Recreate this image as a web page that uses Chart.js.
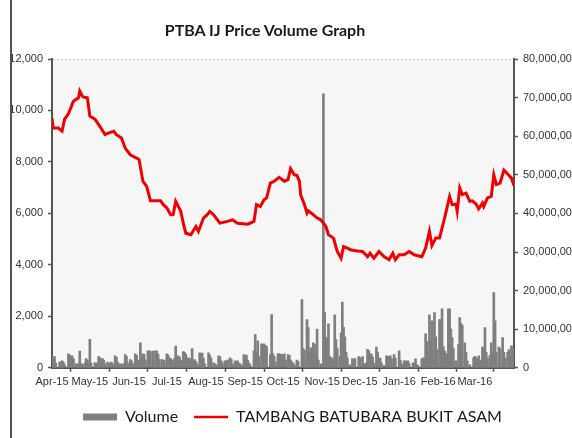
<!DOCTYPE html>
<html><head><meta charset="utf-8">
<script src="https://cdn.jsdelivr.net/npm/chart.js@4.4.0/dist/chart.umd.min.js"></script>
<style>
html,body{margin:0;padding:0;background:#fff;overflow:hidden;width:572px;height:438px;}
#wrap{position:relative;width:585px;height:438px;}
#title{position:absolute;top:21px;left:0;width:530px;text-align:center;font:bold 16px Lato,"Open Sans",sans-serif;color:#1a1a1a;line-height:18px;}
#frame{position:absolute;left:10px;top:0;width:2px;height:438px;background:#555;}
canvas{display:block;}
</style></head><body>
<div id="wrap">
<canvas id="c" width="585" height="438" style="width:585px;height:438px"></canvas>
<div id="title">PTBA IJ Price Volume Graph</div>
<div id="frame"></div>
</div>
<script>
// Days counted from 1 Apr 2015
const monthTickDays = [0,30,61,91,122,153,183,214,244,275,306,335];
const monthLabels = ['Apr-15','May-15','Jun-15','Jul-15','Aug-15','Sep-15','Oct-15','Nov-15','Dec-15','Jan-16','Feb-16','Mar-16'];

const priceDays = [0,1,5,8,10,13,17,21,22,24,25,28,30,34,37,39,42,45,49,51,55,58,62,67,69,72,75,78,86,88,91,94,96,98,102,104,106,110,114,116,120,123,125,128,133,139,143,147,155,160,162,165,168,170,173,176,180,184,187,189,192,194,196,197,200,202,203,207,210,212,214,217,219,223,226,229,231,234,237,242,246,250,252,255,259,263,267,270,272,275,279,283,287,293,296,299,301,304,307,311,315,317,320,321,323,325,328,331,333,336,338,341,342,345,348,350,352,355,358,361,364,366];
const priceValues = [9700,9320,9320,9200,9660,9870,10360,10490,10750,10560,10520,10490,9780,9660,9450,9300,9060,9130,9190,9060,8930,8540,8280,8150,8090,7250,7050,6490,6490,6350,6210,5950,5960,6470,6080,5620,5230,5170,5490,5300,5820,5950,6080,5950,5620,5690,5750,5620,5580,5690,6340,6270,6530,6600,7180,7250,7400,7250,7310,7740,7500,7480,7250,6720,6340,6010,6100,5950,5820,5780,5690,5490,5170,5040,4520,4260,4710,4650,4580,4540,4520,4320,4450,4260,4520,4320,4200,4450,4200,4390,4390,4520,4390,4320,4650,5300,4750,5040,5040,5820,6660,6340,6360,6080,6990,6730,6790,6470,6490,6360,6180,6400,6270,6600,6660,7500,7120,7180,7680,7530,7370,7080];

const volumeDays = [0,1,2,3,6,7,8,9,10,13,14,15,16,17,19,20,21,22,23,24,26,27,28,29,30,31,34,35,36,37,38,39,40,41,42,44,45,47,48,50,51,52,54,55,56,58,59,60,62,63,64,66,67,68,70,71,72,73,74,76,77,78,80,82,83,84,85,87,88,89,91,92,93,94,95,97,98,99,100,101,102,104,105,106,108,109,110,111,112,113,114,115,117,118,119,120,121,124,125,126,128,129,130,132,133,134,135,137,138,139,141,142,143,145,146,147,148,149,150,152,153,154,155,156,157,160,161,162,163,164,166,167,168,169,170,173,174,175,176,177,179,180,181,182,184,185,187,188,189,190,191,192,194,195,198,199,200,202,203,204,205,207,208,209,210,211,213,215,216,217,218,219,220,221,222,223,224,225,226,228,229,230,231,232,233,234,236,238,239,240,243,244,246,247,249,250,251,252,253,254,255,257,258,259,260,261,263,265,266,267,268,269,271,272,275,276,277,279,280,281,282,283,286,287,288,289,290,293,294,295,296,297,298,299,300,301,302,303,304,305,307,308,309,310,311,312,313,314,315,316,317,318,320,322,323,324,325,327,328,329,331,334,335,336,337,338,340,341,342,343,344,345,347,348,349,350,351,352,354,355,357,358,359,361,362,363,364,365];
const volumeMillions = [2.9,2.7,2.9,1.2,1.4,1.6,1.8,1.5,0.8,3.6,3.3,2.8,3.1,2.4,1.0,0.8,1.1,4.3,1.0,0.9,1.2,2.4,2.0,1.0,7.4,1.2,1.3,1.1,1.3,2.9,2.6,1.5,2.4,2.0,1.0,1.5,1.2,1.5,1.0,3.1,2.8,1.5,1.0,0.8,1.0,3.4,3.0,1.2,2.1,1.8,1.0,3.6,3.2,2.0,6.5,3.0,3.6,3.5,2.0,4.4,4.4,4.2,4.3,4.4,4.3,3.5,2.2,2.1,1.8,2.0,3.6,3.2,2.5,2.4,2.0,2.4,5.6,2.0,3.1,2.8,2.0,4.2,4.0,3.5,2.6,2.4,1.5,5.0,1.8,2.1,1.6,1.0,3.9,3.6,3.8,2.5,1.0,3.9,3.2,2.5,1.3,1.0,0.8,3.1,2.9,1.8,1.2,1.8,1.5,2.0,2.6,2.2,1.0,1.8,1.5,1.8,1.2,1.0,0.7,3.4,3.0,3.3,2.0,1.3,0.8,4.4,8.6,4.0,7.0,3.0,6.2,6.0,6.2,5.8,5.5,3.4,13.8,3.6,3.0,1.5,3.6,3.7,3.5,3.4,3.6,2.0,3.4,3.2,2.0,1.5,1.3,0.8,2.0,1.6,17.7,5.0,4.5,12.5,10.4,4.0,5.2,6.5,6.0,3.5,10.0,2.0,1.0,71.0,14.3,6.0,7.8,11.4,3.0,2.6,2.0,2.6,13.7,7.3,5.0,3.0,9.0,17.0,10.5,8.0,4.0,2.6,0.8,2.4,2.0,2.4,2.9,2.6,2.9,1.0,1.3,4.8,4.4,3.5,3.6,2.8,1.2,5.4,4.0,2.0,2.5,1.3,0.6,3.1,3.0,1.5,3.1,2.3,3.4,2.5,4.4,2.0,1.0,1.8,1.8,1.6,1.8,1.0,1.3,1.0,2.3,0.8,0.6,2.3,2.6,2.3,8.8,6.8,2.5,13.7,7.0,12.2,3.0,14.3,8.0,4.7,12.5,12.5,15.3,5.5,4.4,3.6,3.6,15.3,15.3,10.0,7.8,5.0,1.8,6.0,13.0,11.5,11.0,6.5,4.0,1.8,0.8,2.6,3.0,2.6,2.2,3.1,2.0,5.4,5.0,10.4,4.0,2.6,3.2,6.5,4.0,19.5,12.2,4.0,5.4,5.0,7.8,4.0,2.5,4.0,4.7,3.0,5.7,5.0];

const priceTicks = [0,2000,4000,6000,8000,10000,12000];
const volumeTicks = [0,10,20,30,40,50,60,70,80]; // millions

const seriesNames = ['Volume','TAMBANG BATUBARA BUKIT ASAM'];

const axisColor = '#555555';
const labelFont = {family:'"Liberation Sans", Arial, sans-serif', size:11};

const plotBg = {
  id:'plotBg',
  beforeDraw(chart){
    const {ctx, chartArea:a} = chart;
    ctx.save(); ctx.fillStyle='#f6f6f6';
    ctx.fillRect(a.left, a.top, a.right-a.left, a.bottom-a.top);
    ctx.restore();
  }
};

new Chart(document.getElementById('c'), {
  type:'bar',
  data:{
    datasets:[
      {
        type:'bar', label:seriesNames[0], yAxisID:'yv', order:1,
        data: volumeDays.map((d,i)=>({x:d, y:volumeMillions[i]})),
        backgroundColor:'#7f7f7f', borderWidth:0, barThickness:2
      },
      {
        type:'line', label:seriesNames[1], yAxisID:'yp', order:0,
        data: priceDays.map((d,i)=>({x:d, y:priceValues[i]})),
        borderColor:'#f00000', backgroundColor:'#f00000', borderWidth:3,
        pointRadius:0, tension:0, fill:false
      }
    ]
  },
  options:{
    responsive:false, animation:false,
    layout:{padding:{top:59, left:0, right:0, bottom:3}},
    plugins:{
      title:{display:false},
      tooltip:{enabled:false},
      legend:{
        position:'bottom', reverse:true,
        labels:{
          usePointStyle:true, pointStyleWidth:34, boxHeight:7, padding:16,
          color:'#1a1a1a', font:{family:'Lato, "Open Sans", sans-serif', size:16},
          generateLabels(chart){
            const items = Chart.defaults.plugins.legend.labels.generateLabels(chart);
            items.forEach(it=>{
              if (it.datasetIndex===0){ it.pointStyle='rect'; it.fillStyle='#7f7f7f'; it.strokeStyle='#7f7f7f'; it.lineWidth=0; }
              else { it.pointStyle='line'; it.strokeStyle='#f00000'; it.lineWidth=2.5; }
            });
            return items;
          }
        }
      }
    },
    scales:{
      x:{
        type:'linear', min:0, max:366, offset:false,
        afterBuildTicks(s){ s.ticks = monthTickDays.map(v=>({value:v})); },
        ticks:{autoSkip:false, maxRotation:0, padding:4, color:'#333', font:labelFont,
          callback(v){ const i = monthTickDays.indexOf(v); return i>=0 ? monthLabels[i] : ''; }},
        grid:{drawOnChartArea:false, drawTicks:true, tickLength:4, tickColor:axisColor, tickWidth:1.5},
        border:{color:axisColor, width:2}
      },
      yp:{
        position:'left', min:0, max:12000,
        afterBuildTicks(s){ s.ticks = priceTicks.map(v=>({value:v})); },
        afterFit(s){ s.width = 52; },
        ticks:{padding:5, color:'#333', font:labelFont,
          callback(v){ return v.toLocaleString('en-US'); }},
        grid:{drawOnChartArea:true, tickLength:4, tickWidth:1.5, tickColor:axisColor,
          color(c){ return c.tick && c.tick.value===12000 ? '#c8c8c8' : 'rgba(0,0,0,0)'; }},
        border:{color:axisColor, width:2, dash:[2,2]}
      },
      yv:{
        position:'right', min:0, max:80,
        afterBuildTicks(s){ s.ticks = volumeTicks.map(v=>({value:v})); },
        afterFit(s){ s.width = 71; },
        ticks:{padding:5, color:'#333', font:labelFont,
          callback(v){ return (v*1e6).toLocaleString('en-US'); }},
        grid:{drawOnChartArea:false, tickLength:4, tickWidth:1.5, tickColor:axisColor},
        border:{color:axisColor, width:2}
      }
    }
  },
  plugins:[plotBg]
});
</script>
</body></html>
